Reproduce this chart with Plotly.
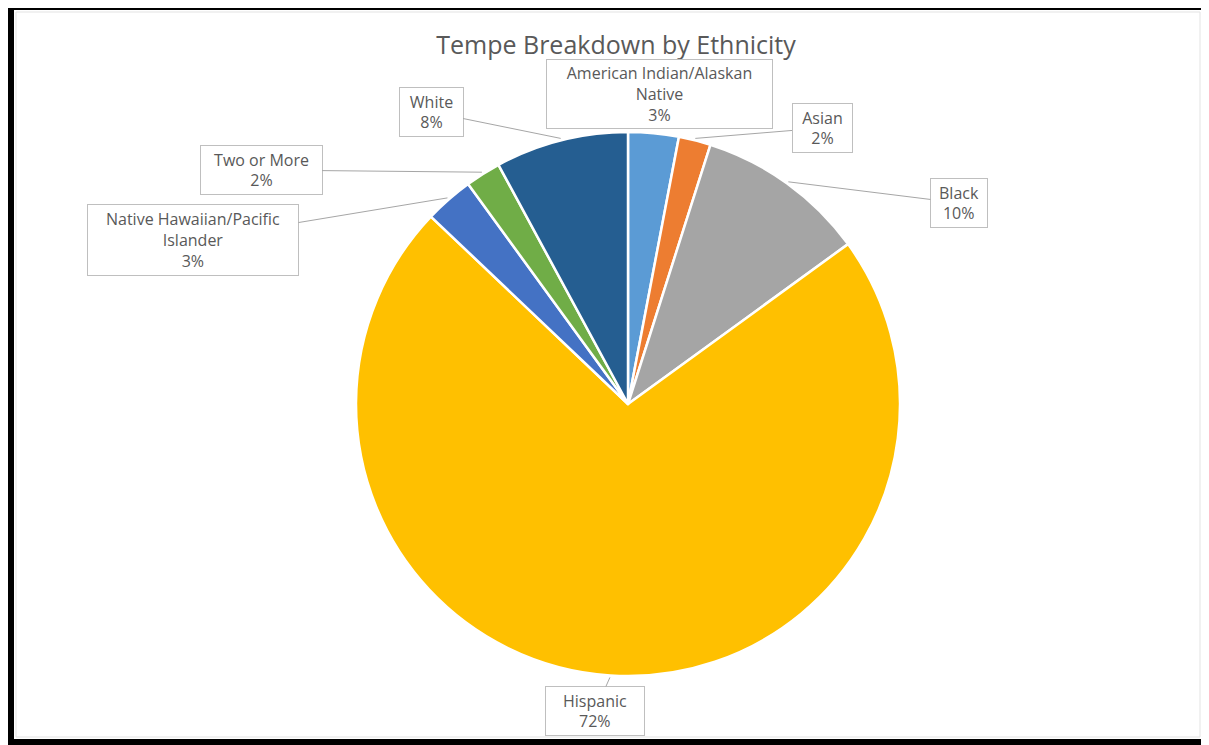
import math
import plotly.graph_objects as go

# ---- data ----
categories = ["American Indian/Alaskan Native", "Asian", "Black", "Hispanic",
              "Native Hawaiian/Pacific Islander", "Two or More", "White"]
values = [3.0, 1.9, 10.1, 72.1, 2.9, 2.1, 7.9]
label_text = ["American Indian/Alaskan<br>Native", "Asian", "Black", "Hispanic",
              "Native Hawaiian/Pacific<br>Islander", "Two or More", "White"]
title_text = "Tempe Breakdown by Ethnicity"

# ---- style / layout (screen pixel positions) ----
colors = ["#5B9BD5", "#ED7D31", "#A5A5A5", "#FFC000", "#4472C4", "#70AD47", "#255E91"]
OFF = 8                       # page body margin
FW, FH = 1209 - OFF, 745 - OFF
CX, CY, R = 628, 404, 272
box_centers = [(659, 94), (822, 128), (959, 203), (595, 711), (193, 240), (261, 170), (431, 112)]
box_sizes = [(227, 70), (61, 50), (58, 50), (100, 50), (212, 72), (123, 50), (65, 50)]
show_leader = [False, True, True, True, True, True, True]
TXT = "#595959"
FONT = "Open Sans"


def px(x):
    return (x - OFF) / FW


def py(y):
    return 1 - (y - OFF) / FH


fig = go.Figure(go.Pie(
    labels=categories, values=values, sort=False, direction="clockwise", rotation=0,
    marker=dict(colors=colors, line=dict(color="white", width=2.5)),
    textinfo="none", showlegend=False, hoverinfo="label+percent",
    domain=dict(x=[px(CX - R), px(CX + R)], y=[py(CY + R), py(CY - R)]),
))

total = sum(values)
annotations = []
cum = 0.0
pad = 3
for i, v in enumerate(values):
    mid = (cum + v / 2) / total * 2 * math.pi
    cum += v
    tipx = CX + (R + 2) * math.sin(mid)
    tipy = CY - (R + 2) * math.cos(mid)
    bx, by = box_centers[i]
    bw, bh = box_sizes[i]
    text = f"{label_text[i]}<br>{round(v / total * 100)}%"
    common = dict(text=text, xref="paper", yref="paper",
                  font=dict(family=FONT, size=16, color=TXT),
                  bgcolor="white", bordercolor="#BFBFBF", borderwidth=1, borderpad=pad,
                  width=bw - 2 * pad - 2, height=bh - 2 * pad - 2, align="center")
    if show_leader[i]:
        annotations.append(dict(x=px(tipx), y=py(tipy), ax=bx - tipx, ay=by - tipy,
                                showarrow=True, arrowhead=0, arrowwidth=1,
                                arrowcolor="#A6A6A6", standoff=0, **common))
    else:
        annotations.append(dict(x=px(bx), y=py(by), showarrow=False,
                                xanchor="center", yanchor="middle", **common))

shapes = [
    dict(type="rect", xref="paper", yref="paper", x0=px(16), x1=px(1200), y0=py(12), y1=py(737),
         line=dict(color="#E3E3E3", width=1), fillcolor="rgba(0,0,0,0)"),
    dict(type="rect", xref="paper", yref="paper", x0=px(0), x1=px(1209), y0=py(0), y1=py(10),
         line=dict(width=0), fillcolor="black"),
    dict(type="rect", xref="paper", yref="paper", x0=px(0), x1=px(14), y0=py(0), y1=py(745),
         line=dict(width=0), fillcolor="black"),
    dict(type="rect", xref="paper", yref="paper", x0=px(0), x1=px(1209), y0=py(739), y1=py(745),
         line=dict(width=0), fillcolor="black"),
]

fig.update_layout(
    width=FW, height=FH, margin=dict(l=0, r=0, t=0, b=0),
    paper_bgcolor="white", plot_bgcolor="white", showlegend=False,
    title=dict(text=title_text, x=px(616), y=py(45), xanchor="center", yanchor="middle",
               xref="paper", yref="paper", font=dict(family=FONT, size=25, color=TXT)),
    annotations=annotations, shapes=shapes,
)

fig.write_html("out.html")
